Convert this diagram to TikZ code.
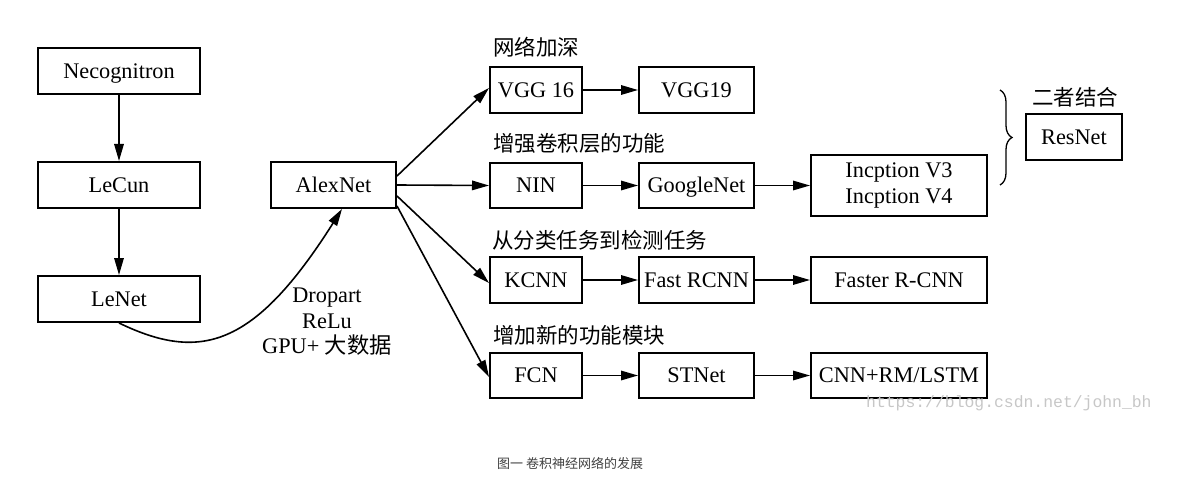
\documentclass[tikz,border=0pt]{standalone}
\usepackage{fontspec}
\setmainfont{Liberation Serif}
\newfontfamily\cjk{Noto Sans CJK SC}
\newfontfamily\wmfont{Liberation Mono}
\usetikzlibrary{arrows.meta,decorations.pathreplacing}
\begin{document}
\begin{tikzpicture}[x=1pt,y=-1pt,
  boxbase/.style={draw,line width=2pt,inner sep=0pt,font=\fontsize{22.3}{25.5}\selectfont,align=center},
  box/.style={boxbase,text height=14.7pt,text depth=0pt},
  conn/.style={line width=1.6pt,-{Triangle[length=17pt,width=9.5pt]}},
  lbl/.style={anchor=west,inner sep=0pt,font=\fontsize{21.5}{25.5}\selectfont\cjk}]
\useasboundingbox (0,0) rectangle (1179,484);
% left column
\node[box,minimum width=162pt,minimum height=46pt] (nec) at (119,71) {Necognitron};
\node[box,minimum width=162pt,minimum height=46pt] (lecun) at (119,185) {LeCun};
\node[box,minimum width=162pt,minimum height=46pt] (lenet) at (119,299) {LeNet};
\node[box,minimum width=125pt,minimum height=46pt] (alex) at (333.5,185) {AlexNet};
% rows
\node[box,minimum width=92pt,minimum height=46pt] (vgg16) at (536,90) {VGG 16};
\node[box,minimum width=115pt,minimum height=46pt] (vgg19) at (696.5,90) {VGG19};
\node[box,minimum width=92pt,minimum height=45pt] (nin) at (536,185.5) {NIN};
\node[box,minimum width=115pt,minimum height=45pt] (google) at (696.5,185.5) {GoogleNet};
\node[boxbase,minimum width=176pt,minimum height=61pt] (incp) at (899,185.5) {Incption V3\\Incption V4};
\node[box,minimum width=96pt,minimum height=46pt] (resnet) at (1074,137) {ResNet};
\node[box,minimum width=92pt,minimum height=46pt] (kcnn) at (536,280) {KCNN};
\node[box,minimum width=115pt,minimum height=46pt] (fast) at (696.5,280) {Fast RCNN};
\node[box,minimum width=176pt,minimum height=46pt] (faster) at (899,280) {Faster R-CNN};
\node[box,minimum width=92pt,minimum height=45pt] (fcn) at (536,375.5) {FCN};
\node[box,minimum width=115pt,minimum height=45pt] (stnet) at (696.5,375.5) {STNet};
\node[box,minimum width=176pt,minimum height=45pt] (cnnrm) at (899,375.5) {CNN+RM/LSTM};
% labels
\node[lbl] (l1) at (493,47) {网络加深};
\node[lbl] (l2) at (493,143) {增强卷积层的功能};
\node[lbl] (l3) at (492,240) {从分类任务到检测任务};
\node[lbl] (l4) at (493,335) {增加新的功能模块};
\node[lbl,anchor=center] (l5) at (1075,97) {二者结合};
\node[align=center,inner sep=0pt,font=\fontsize{22.3}{25.5}\selectfont] (feat) at (327,322) {Dropart\\ReLu\\GPU+ {\cjk 大数据}};
% connectors
\draw[conn] (nec) -- (lecun);
\draw[conn] (lecun) -- (lenet);
\draw[conn] (lenet.south) .. controls (200,362) and (254,348) .. ([xshift=8.5pt]alex.south);
\draw[conn] ([yshift=9pt]alex.east) -- ([yshift=2pt]vgg16.west);
\draw[conn] (alex.east) -- (nin.west);
\draw[conn] ([yshift=-11pt]alex.east) -- ([yshift=-3pt]kcnn.west);
\draw[conn] ([yshift=-21pt]alex.east) -- ([yshift=-1.5pt]fcn.west);
\draw[conn] (vgg16) -- (vgg19);
\draw[conn] (nin) -- (google);
\draw[conn] (google) -- (incp);
\draw[conn] (kcnn) -- (fast);
\draw[conn] (fast) -- (faster);
\draw[conn] (fcn) -- (stnet);
\draw[conn] (stnet) -- (cnnrm);
% brace
\coordinate (bt) at (1000,90);
\coordinate (bb) at (1000,185);
\draw[line width=1.3pt,decorate,decoration={brace,amplitude=12pt}] (bt) -- (bb);
% watermark and caption
\node[anchor=west,inner sep=0pt,text=black!22,font=\fontsize{16.4}{18}\selectfont\wmfont] (wm) at (866,403) {https://blog.csdn.net/john\_bh};
\node[anchor=west,inner sep=0pt,text=black!75,font=\fontsize{13}{15}\selectfont\cjk] (cap) at (497,463) {图一 卷积神经网络的发展};
\end{tikzpicture}
\end{document}
